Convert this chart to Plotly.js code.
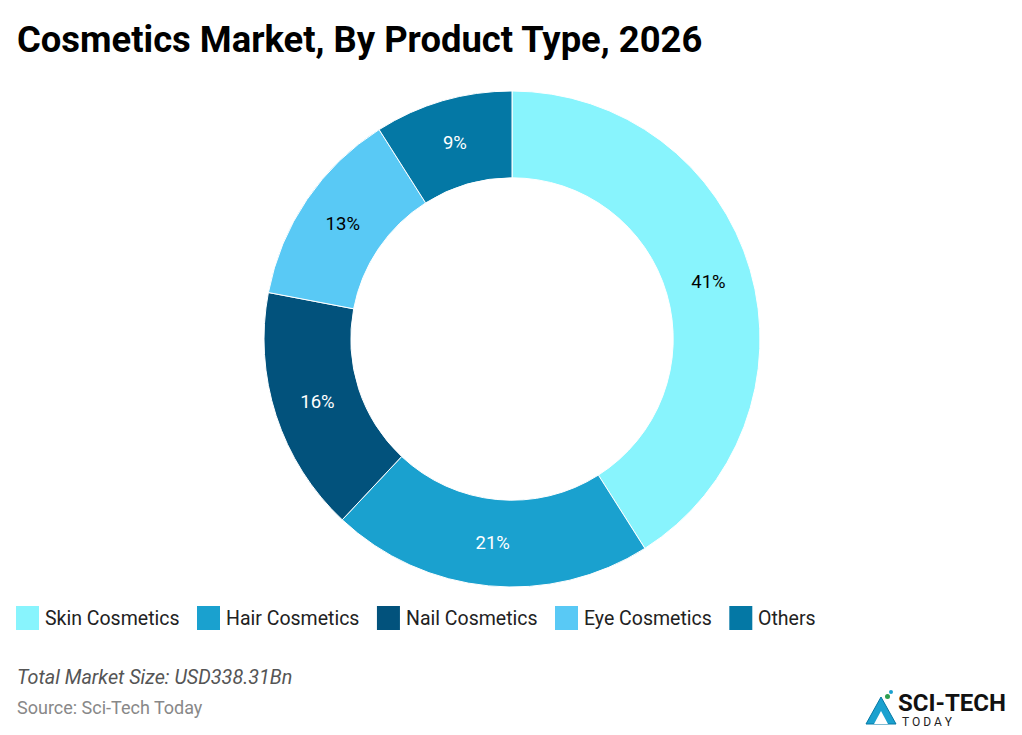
<!DOCTYPE html>
<html><head><meta charset="utf-8">
<script src="https://cdn.plot.ly/plotly-3.0.1.min.js"></script>
<style>html,body{margin:0;padding:0;background:#fff}#chart{width:1022px;height:735px}</style>
</head><body><div id="chart"></div>
<script>
const categories = ["Skin Cosmetics","Hair Cosmetics","Nail Cosmetics","Eye Cosmetics","Others"];
const shares = [41,21,16,13,9];
const colors = ["#88F4FD","#1AA1CF","#02527C","#59C9F5","#0478A5"];
const textColors = ["#000000","#ffffff","#ffffff","#000000","#ffffff"];
const titleText = "Cosmetics Market, By Product Type, 2026";
const totalNote = "Total Market Size: USD338.31Bn";
const sourceNote = "Source: Sci-Tech Today";

const W = 1022, H = 735;
const trace = {
  type: "pie",
  labels: categories,
  values: shares,
  sort: false,
  direction: "clockwise",
  rotation: 0,
  hole: 0.65,
  marker: {colors: colors, line: {color: "#ffffff", width: 1}},
  texttemplate: "%{value}%",
  textposition: "inside",
  insidetextorientation: "horizontal",
  textfont: {family: "Roboto, sans-serif", size: 18.5, color: textColors},
  domain: {x: [264/W, 760/W], y: [1-587/H, 1-91/H]},
  showlegend: false,
  hoverinfo: "label+percent"
};

// custom legend built from the categories/colors arrays
const shapes = [], annotations = [];
const cv = document.createElement("canvas").getContext("2d");
const legSize = 19.5;
cv.font = legSize + "px Roboto";
let x = 16;
const ly = 618;
categories.forEach((c, i) => {
  shapes.push({type: "rect", xref: "paper", yref: "paper",
    x0: x/W, x1: (x+23)/W, y0: 1-(ly+12)/H, y1: 1-(ly-12)/H,
    fillcolor: colors[i], line: {width: 0}});
  annotations.push({xref: "paper", yref: "paper", x: (x+27)/W, y: 1-ly/H,
    xanchor: "left", yanchor: "middle", showarrow: false, text: c,
    font: {family: "Roboto, sans-serif", size: legSize, color: "#222"}});
  x += 27 + cv.measureText(c).width + 19.5;
});

annotations.push({xref: "paper", yref: "paper", x: 15/W, y: 1-677/H, xanchor: "left", yanchor: "middle",
  showarrow: false, text: "<i>" + totalNote + "</i>", font: {family: "Roboto, sans-serif", size: 19.8, color: "#555"}});
annotations.push({xref: "paper", yref: "paper", x: 15/W, y: 1-707/H, xanchor: "left", yanchor: "middle",
  showarrow: false, text: sourceNote, font: {family: "Roboto, sans-serif", size: 18, color: "#888"}});
// logo
annotations.push({xref: "paper", yref: "paper", x: 896/W, y: 1-703/H, xanchor: "left", yanchor: "middle",
  showarrow: false, text: "<b>SCI-TECH</b>", font: {family: "Roboto, sans-serif", size: 24, color: "#111"}});
annotations.push({xref: "paper", yref: "paper", x: 900/W, y: 1-722/H, xanchor: "left", yanchor: "middle",
  showarrow: false, text: "T O D A Y", font: {family: "Roboto, sans-serif", size: 12, color: "#222"}});
shapes.push({type: "path", xref: "paper", yref: "paper",
  path: `M ${866/W} ${1-724/H} L ${881/W} ${1-697/H} L ${896/W} ${1-724/H} Z`,
  fillcolor: "#1AA1CF", line: {color: "#0478A5", width: 1}});
shapes.push({type: "path", xref: "paper", yref: "paper",
  path: `M ${874/W} ${1-724/H} L ${881/W} ${1-711/H} L ${888/W} ${1-724/H} Z`,
  fillcolor: "#ffffff", line: {width: 0}});
shapes.push({type: "circle", xref: "paper", yref: "paper",
  x0: 885/W, x1: 890/W, y0: 1-699/H, y1: 1-694/H, fillcolor: "#2E9E4F", line: {width: 0}});
shapes.push({type: "circle", xref: "paper", yref: "paper",
  x0: 889/W, x1: 893/W, y0: 1-694/H, y1: 1-690/H, fillcolor: "#1AA1CF", line: {width: 0}});

const layout = {
  width: W, height: H,
  margin: {l: 0, r: 0, t: 0, b: 0},
  paper_bgcolor: "#fff",
  title: {text: "<b>" + titleText + "</b>", x: 17/W, xanchor: "left", y: 1-39/H, yanchor: "middle",
    font: {family: "Roboto, sans-serif", size: 36.4, color: "#000"}},
  shapes: shapes,
  annotations: annotations,
  showlegend: false
};
Plotly.newPlot("chart", [trace], layout, {displayModeBar: false, staticPlot: true});
</script></body></html>
